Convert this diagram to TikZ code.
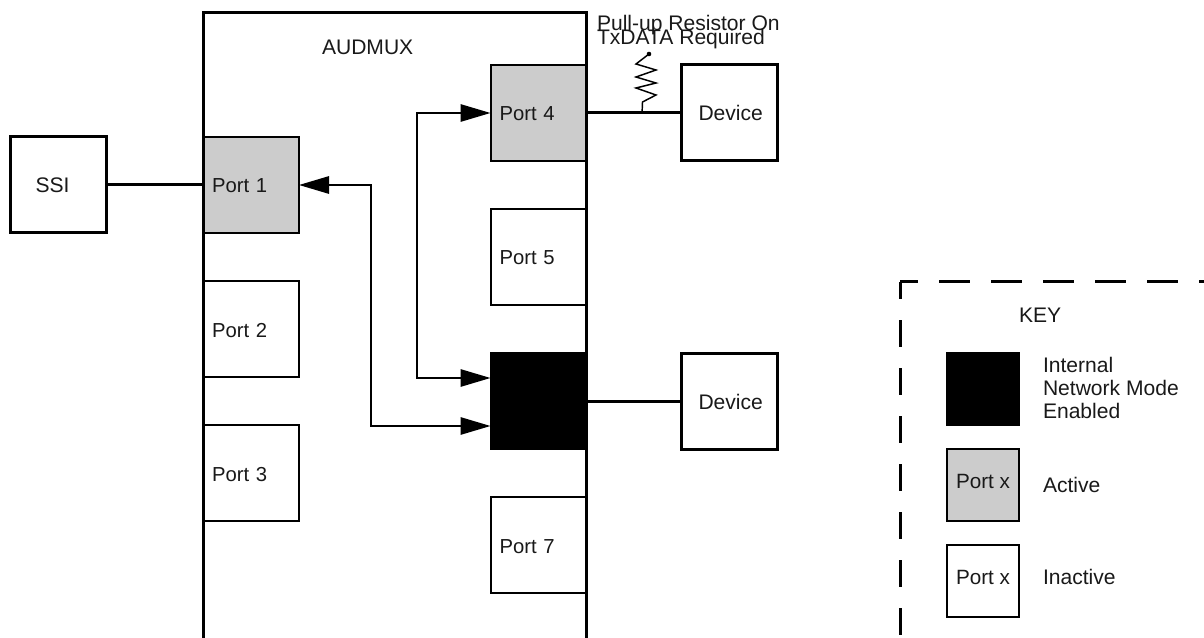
\documentclass[tikz,border=0pt]{standalone}
\usepackage{fontspec}
\setmainfont{Liberation Sans}
\usetikzlibrary{arrows.meta,calc}
\newcommand{\portfont}{\fontsize{15.2}{17.5}\selectfont}
\newcommand{\labelfont}{\fontsize{15.8}{18}\selectfont}
\tikzset{
  x=0.75pt,y=-0.75pt,
  every node/.style={font=\labelfont,text=black!90},
  box/.style={draw=black,rectangle,inner sep=0pt,outer sep=0pt,minimum width=96*0.75pt,minimum height=96*0.75pt,align=left},
  port/.style={box,line width=1.5pt,text width=78*0.75pt,font=\portfont,text height=12pt,text depth=0pt},
  active/.style={port,fill=black!20},
  ext/.style={box,line width=2.25pt,text width=78*0.75pt,text height=12pt,text depth=0pt},
  keybox/.style={draw=black,rectangle,inner sep=0pt,outer sep=0pt,line width=1.5pt,minimum width=72*0.75pt,minimum height=72*0.75pt,align=center,font=\fontsize{15.5}{17.5}\selectfont,text height=10.7pt,text depth=6pt},
  thickline/.style={line width=2.25pt,line cap=butt},
  link/.style={line width=1.4pt,{Triangle[length=22.5pt,width=13pt]}-{Triangle[length=22.5pt,width=13pt]}},
  textnode/.style={inner sep=0pt,outer sep=0pt,anchor=base west,align=left}
}
\begin{document}
\begin{tikzpicture}
\useasboundingbox (0,0) rectangle (1204,638);
% ports
\node[active] (p1) at (251,185) {Port 1};
\node[port] (p2) at (251,329) {Port 2};
\node[port] (p3) at (251,473) {Port 3};
\node[active] (p4) at (538.5,113) {Port 4};
\node[port] (p5) at (538.5,257) {Port 5};
\node[box,fill=black,line width=1.5pt] (p6) at (538.5,401) {};
\node[port] (p7) at (538.5,545) {Port 7};
% outer block
\coordinate (ab1) at (203,638);
\coordinate (at1) at (203,13);
\coordinate (at2) at (586,13);
\coordinate (ab2) at (586,638);
\draw[line width=2.25pt,line cap=butt,line join=miter] (ab1) -- (at1) -- (at2) -- (ab2);
\node[textnode] (title) at (322,55) {AUDMUX};
% external
\node[ext] (ssi) at (58.5,185) {\hspace*{12pt}SSI};
\node[ext] (d1) at (729.5,113) {\hspace*{6pt}Device};
\node[ext] (d2) at (729.5,401) {\hspace*{6pt}Device};
% links
\draw[thickline] (ssi.east) -- (p1.west);
\draw[thickline] (p4.east) -- (d1.west);
\draw[thickline] (p6.east) -- (d2.west);
\coordinate (m1) at (371,185);
\coordinate (m2) at (371,426);
\coordinate (e2) at ($(p6.west)+(0,25)$);
\draw[link] (p1.east) -- (m1) -- (m2) -- (e2);
\coordinate (m3) at (417,113);
\coordinate (m4) at (417,378);
\coordinate (e3) at ($(p6.west)+(0,-23)$);
\draw[link] (p4.west) -- (m3) -- (m4) -- (e3);
% pull-up
\coordinate (r0) at ($(p4.east)!0.585!(d1.west)$);
\coordinate (r1) at (649,54);
\draw[line width=1.1pt,line join=miter] (r0) -- (642.5,102) -- (656,95) -- (636,88) -- (656,83) -- (636,77) -- (656,70) -- (636,64) -- (r1);
\fill (r1) circle[radius=2.3];
\node[textnode] (pull1) at (597,31) {Pull-up Resistor On};
\node[textnode] (pull2) at (597,45) {TxDATA Required};
% key
\coordinate (k0) at (900,282);
\coordinate (k1) at (1204,282);
\coordinate (k2) at (900,638);
\draw[line width=2.25pt,dash pattern=on 23 off 16,dash phase=13*0.75pt] (k0) -- (k1);
\draw[line width=2.25pt,dash pattern=on 20 off 16,dash phase=10*0.75pt] (k0) -- (k2);
\node[textnode] (keyt) at (1019,322) {KEY};
\node[keybox,fill=black] (kb1) at (983,389) {};
\node[keybox,fill=black!20] (kb2) at (983,485) {Port x};
\node[keybox] (kb3) at (983,581) {Port x};
\node[textnode] (kl1) at (1043,372) {Internal};
\node[textnode] (kl1b) at (1043,395) {Network Mode};
\node[textnode] (kl1c) at (1043,418) {Enabled};
\node[textnode] (kl2) at (1043,492) {Active};
\node[textnode] (kl3) at (1043,584) {Inactive};
\end{tikzpicture}
\end{document}
